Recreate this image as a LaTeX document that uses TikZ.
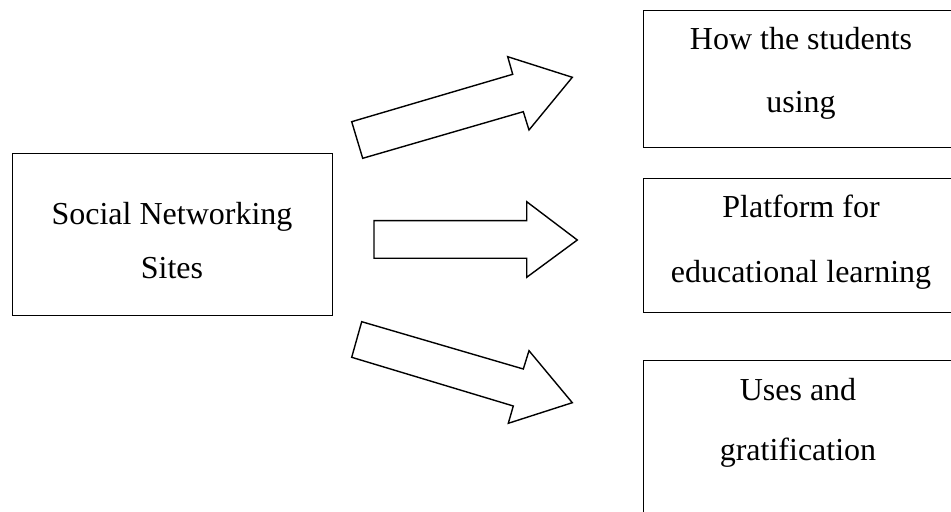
\documentclass[tikz,border=0pt]{standalone}
\usepackage{fontspec}
\setmainfont{Liberation Serif}
\begin{document}
\begin{tikzpicture}[x=1bp,y=-1bp,
  box/.style={draw, line width=1.2bp, inner sep=0pt, anchor=north west},
  blockarrow/.style={draw, line width=1.4bp, line join=miter},
  lbl/.style={anchor=base, inner sep=0pt, font=\fontsize{32bp}{36bp}\selectfont}]
\useasboundingbox (0,0) rectangle (951,512);
\begin{scope}
\clip (0,0) rectangle (951,512);
\node[box, minimum width=320bp, minimum height=162bp] (sns) at (12,153) {};
\node[box, minimum width=314bp, minimum height=137bp] (how) at (643,10) {};
\node[box, minimum width=314bp, minimum height=134bp] (plat) at (643,178) {};
\node[box, minimum width=314bp, minimum height=165bp] (uses) at (643,360) {};
\end{scope}
% texts
\node[lbl] (t1) at (172,225) {Social Networking};
\node[lbl] (t2) at (172,279) {Sites};
\node[lbl] (t3) at (801,50) {How the students};
\node[lbl] (t4) at (801,113) {using};
\node[lbl] (t5) at (801,218) {Platform for};
\node[lbl] (t6) at (801,283) {educational learning};
\node[lbl] (t7) at (798,400) {Uses and};
\node[lbl] (t8) at (798,460) {gratification};
% block arrows
\draw[blockarrow] (351.7,121.7) -- (512.7,74.3) -- (507.7,56.7) -- (572.3,77.3) -- (529,130) -- (523.3,111.7) -- (362.7,158.3) -- cycle;
\draw[blockarrow] (374,220.7) -- (526.7,220.7) -- (526.7,201.7) -- (577.3,240) -- (526.7,277.3) -- (526.7,258.3) -- (374,258.3) -- cycle;
\draw[blockarrow] (361.7,321.7) -- (523.3,369) -- (529,350.7) -- (572.3,402.7) -- (508.3,423.3) -- (513.3,406) -- (351.7,357.3) -- cycle;
\end{tikzpicture}
\end{document}
